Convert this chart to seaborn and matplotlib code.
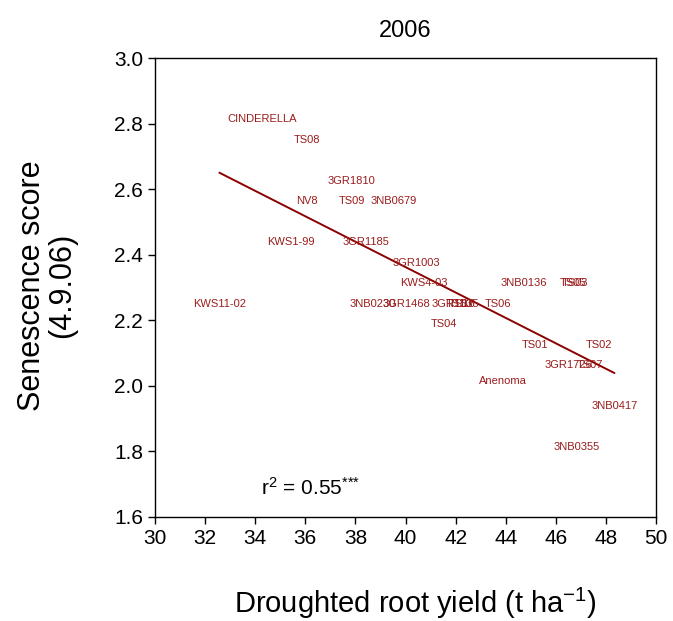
import matplotlib
matplotlib.use("Agg")
import matplotlib.pyplot as plt
import numpy as np
import pandas as pd
import seaborn as sns

# Cultivar names, droughted root yield (t/ha) and senescence score (4.9.06)
cultivars = [
    "CINDERELLA", "TS08", "3GR1810", "NV8", "TS09", "3NB0679", "KWS1-99",
    "3GR1185", "3GR1003", "KWS4-03", "3NB0136", "TS05", "TS03", "KWS11-02",
    "3NB0230", "3GR1468", "3GR1535", "TS10", "TS16", "TS06", "TS04", "TS01",
    "TS02", "3GR1726", "TS07", "Anenoma", "3NB0417", "3NB0355",
]
root_yield = [
    34.29, 36.08, 37.83, 36.08, 37.87, 39.54, 35.44,
    38.41, 40.45, 40.75, 44.71, 46.69, 46.77, 32.57,
    38.68, 40.05, 41.98, 42.13, 42.25, 43.71, 41.54, 45.15,
    47.71, 46.49, 47.35, 43.88, 48.34, 46.83,
]
senescence = [
    2.8125, 2.75, 2.625, 2.5625, 2.5625, 2.5625, 2.4375,
    2.4375, 2.375, 2.3125, 2.3125, 2.3125, 2.3125, 2.25,
    2.25, 2.25, 2.25, 2.25, 2.25, 2.25, 2.1875, 2.125,
    2.125, 2.0625, 2.0625, 2.016, 1.9375, 1.8125,
]
x_ticks = [30, 32, 34, 36, 38, 40, 42, 44, 46, 48, 50]
y_ticks = [1.6, 1.8, 2.0, 2.2, 2.4, 2.6, 2.8, 3.0]

df = pd.DataFrame({"cultivar": cultivars, "yield": root_yield, "score": senescence})

sns.set_style("ticks")
plt.rcParams["font.family"] = ["Liberation Sans", "DejaVu Sans"]
plt.rcParams["mathtext.fontset"] = "custom"
plt.rcParams["mathtext.rm"] = "Liberation Sans"
plt.rcParams["mathtext.it"] = "Liberation Sans"
plt.rcParams["text.color"] = "black"
plt.rcParams["axes.labelcolor"] = "black"

fig = plt.figure(figsize=(6.73, 6.21), dpi=100)
ax = fig.add_axes([0.2303, 0.1675, 0.7445, 0.7391])

# Least-squares regression line over the data range
sns.regplot(data=df, x="yield", y="score", ax=ax, scatter=False, ci=None,
            truncate=True, line_kws={"color": "#8B0000", "lw": 1.4})

# Cultivar labels placed at their data points
for name, xv, yv in zip(df["cultivar"], df["yield"], df["score"]):
    ax.text(xv, yv, name, ha="center", va="center", fontsize=8,
            color="#9B1C1C")

ax.text(34.25, 1.69, r"r$^2$ = 0.55$^{{*}{*}{*}}$", fontsize=15, ha="left",
        va="center", color="black")

ax.set_xlim(30, 50)
ax.set_ylim(1.6, 3.0)
ax.set_xticks(x_ticks)
ax.set_yticks(y_ticks)
ax.set_yticklabels([f"{v:.1f}" for v in y_ticks])
ax.tick_params(direction="out", length=5, width=1, labelsize=15,
               colors="black", top=False, right=False)
for s in ax.spines.values():
    s.set_visible(True)
    s.set_linewidth(1.0)
    s.set_color("black")

ax.set_xlabel(r"Droughted root yield (t ha$^{\mathrm{-1}}$)", fontsize=21)
ax.set_ylabel("Senescence score\n(4.9.06)", fontsize=22, linespacing=1.0)
ax.xaxis.set_label_coords(0.52, -0.15)
ax.yaxis.set_label_coords(-0.155, 0.505)
ax.set_title("2006", fontsize=17, pad=15)

fig.savefig("out.png", dpi=100)
